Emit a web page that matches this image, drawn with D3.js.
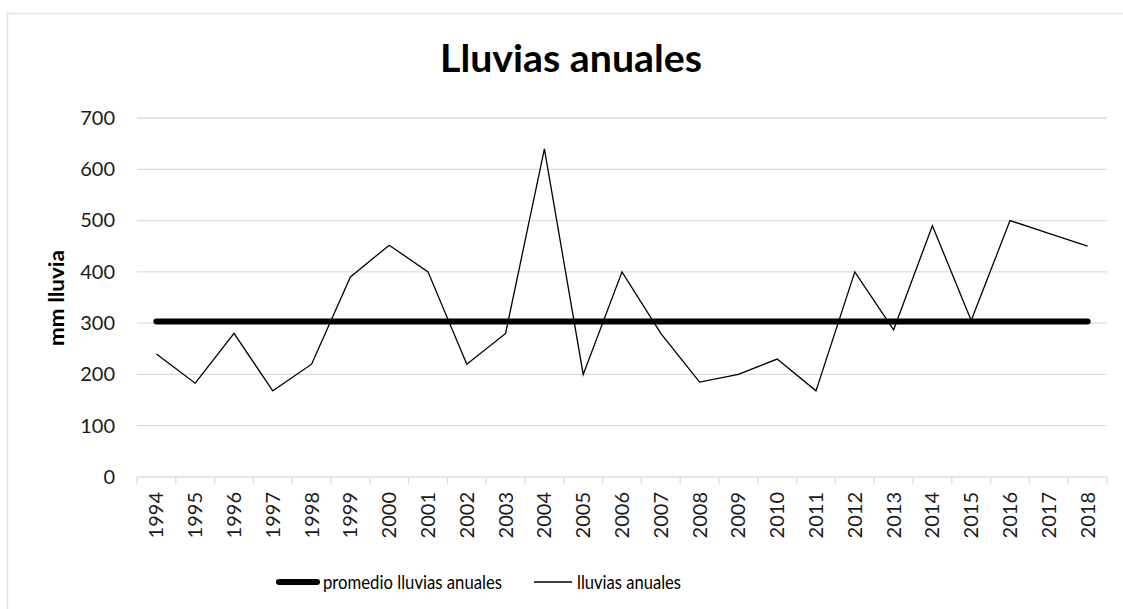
<!DOCTYPE html>
<html>
<head>
<meta charset="utf-8">
<script src="https://cdn.jsdelivr.net/npm/d3@7/dist/d3.min.js"></script>
<style>
  html, body { margin: 0; padding: 0; background: #fff; }
  svg { display: block; }
  text { font-family: Lato, "Open Sans", sans-serif; }
</style>
</head>
<body>
<svg id="chart" width="1123" height="609"></svg>
<script>
const years = ["1994","1995","1996","1997","1998","1999","2000","2001","2002","2003","2004","2005","2006","2007","2008","2009","2010","2011","2012","2013","2014","2015","2016","2017","2018"];
const lluviasAnuales = [240,183,280,168,220,390,452,400,220,280,640,200,400,280,185,200,230,168,400,287,490,305,500,475,450];
const promedioLluvias = [303,303,303,303,303,303,303,303,303,303,303,303,303,303,303,303,303,303,303,303,303,303,303,303,303];
const yTicks = [0,100,200,300,400,500,600,700];
const titleText = "Lluvias anuales";
const yLabel = "mm lluvia";
const seriesNames = ["promedio lluvias anuales", "lluvias anuales"];

const svg = d3.select("#chart");
const W = 1123, H = 609;
const plot = { left: 137, right: 1107, top: 118, bottom: 477 };
const gridColor = "#d9dde3";

// chart border
svg.append("rect").attr("x", 7.5).attr("y", 13.5).attr("width", W + 10).attr("height", H + 10)
  .attr("fill", "#fff").attr("stroke", "#dfe2e6").attr("stroke-width", 1.5);

const x = d3.scaleBand().domain(years).range([plot.left, plot.right]).padding(0);
const y = d3.scaleLinear().domain([0, 700]).range([plot.bottom, plot.top]);

// gridlines
svg.append("g").selectAll("line").data(yTicks.filter(d => d > 0)).join("line")
  .attr("x1", plot.left).attr("x2", plot.right)
  .attr("y1", d => y(d)).attr("y2", d => y(d))
  .attr("stroke", gridColor).attr("stroke-width", 1.3);

// y axis labels
const yAxis = d3.axisLeft(y).tickValues(yTicks).tickSize(0).tickPadding(22);
const gy = svg.append("g").attr("transform", `translate(${plot.left},0)`).call(yAxis);
gy.select(".domain").remove();
gy.selectAll("text").attr("font-size", 20).attr("fill", "#1a1a1a").style("font-family", "Lato, sans-serif");

// x axis
const gx = svg.append("g").attr("transform", `translate(0,${plot.bottom})`);
gx.append("line").attr("x1", plot.left).attr("x2", plot.right).attr("y1", 0).attr("y2", 0)
  .attr("stroke", gridColor).attr("stroke-width", 1.3);
const bounds = years.map(d => x(d)).concat([plot.right]);
gx.selectAll("line.tk").data(bounds).join("line").attr("class", "tk")
  .attr("x1", d => d).attr("x2", d => d).attr("y1", 0).attr("y2", 7)
  .attr("stroke", gridColor).attr("stroke-width", 1.3);
gx.selectAll("text").data(years).join("text")
  .attr("transform", d => `translate(${x(d) + x.bandwidth() / 2 + 7},15) rotate(-90)`)
  .attr("text-anchor", "end")
  .attr("font-size", 20).attr("fill", "#1a1a1a")
  .text(d => d);

// lines
const line = d3.line().x((d, i) => x(years[i]) + x.bandwidth() / 2).y(d => y(d));
svg.append("path").datum(promedioLluvias).attr("d", line)
  .attr("fill", "none").attr("stroke", "#000").attr("stroke-width", 6).attr("stroke-linecap", "round");
svg.append("path").datum(lluviasAnuales).attr("d", line)
  .attr("fill", "none").attr("stroke", "#000").attr("stroke-width", 1.3).attr("stroke-linejoin", "miter");

// title
svg.append("text").attr("x", 571).attr("y", 71.5).attr("text-anchor", "middle")
  .attr("font-size", 38).attr("font-weight", "bold").attr("fill", "#000")
  .attr("textLength", 262).attr("lengthAdjust", "spacingAndGlyphs").text(titleText);

// y label
svg.append("text").attr("transform", "translate(64,298) rotate(-90)").attr("text-anchor", "middle")
  .attr("font-size", 21).attr("font-weight", "bold").attr("fill", "#000")
  .attr("textLength", 96).attr("lengthAdjust", "spacingAndGlyphs").text(yLabel);

// legend
const lg = svg.append("g");
lg.append("line").attr("x1", 279).attr("x2", 317).attr("y1", 582).attr("y2", 582)
  .attr("stroke", "#000").attr("stroke-width", 6).attr("stroke-linecap", "round");
lg.append("text").attr("x", 323).attr("y", 589).attr("font-size", 20).attr("fill", "#000")
  .attr("textLength", 179).attr("lengthAdjust", "spacingAndGlyphs").text(seriesNames[0]);
lg.append("line").attr("x1", 534).attr("x2", 572).attr("y1", 582).attr("y2", 582)
  .attr("stroke", "#000").attr("stroke-width", 1.3);
lg.append("text").attr("x", 577).attr("y", 589).attr("font-size", 20).attr("fill", "#000")
  .attr("textLength", 104).attr("lengthAdjust", "spacingAndGlyphs").text(seriesNames[1]);
</script>
</body>
</html>
